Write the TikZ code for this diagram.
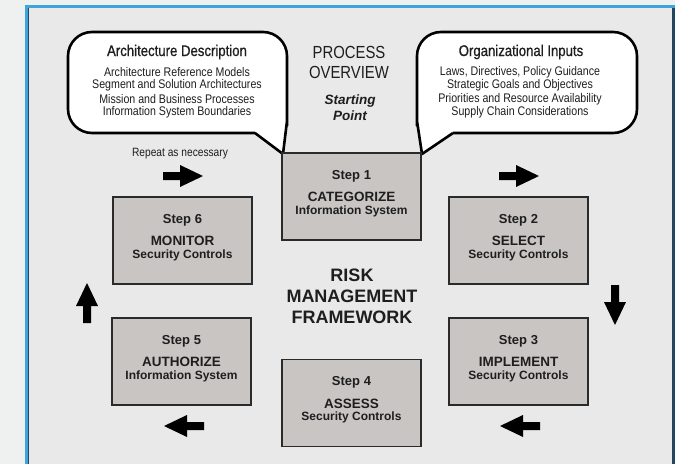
\documentclass[tikz,border=0pt]{standalone}
\usepackage{fontspec}
\setmainfont{Liberation Sans}
\newfontfamily\narrowfont[FakeStretch=0.85]{Liberation Sans}
\newfontfamily\narrowheavy[FakeStretch=0.85,FakeBold=0.8]{Liberation Sans}
\definecolor{pagebg}{HTML}{EFF0F0}
\definecolor{framebg}{HTML}{E9E9E9}
\definecolor{frameblue}{HTML}{3FA3DC}
\definecolor{frameedge}{HTML}{24465E}
\definecolor{stepfill}{HTML}{C8C5C3}
\definecolor{stepline}{HTML}{2A2A2A}
\definecolor{inktext}{HTML}{1E1E1E}
\tikzset{
  stepbox/.style={draw=stepline, line width=1.8pt, fill=stepfill,
    minimum width=139pt, minimum height=87pt, inner sep=0pt},
  steptext/.style={text=inktext, font=\bfseries, inner sep=0pt},
  callout/.style={draw=black, line width=2.6pt, fill=white, line join=round},
  blockarrow/.style={fill=black, draw=none},
  calltitle/.style={font=\narrowheavy\fontsize{15.5}{18}\selectfont, text=inktext, inner sep=0pt},
  callline/.style={font=\narrowfont\fontsize{12.5}{13.5}\selectfont, text=inktext, inner sep=0pt},
}
% three lines of a step box: number, action, object
\newcommand{\steplabels}[4]{%
  \node[steptext, font=\bfseries\fontsize{13}{15}\selectfont, yshift=20.5pt] (#1num) at (#1) {#2};
  \node[steptext, font=\bfseries\fontsize{13.5}{15}\selectfont, yshift=-0.5pt] (#1act) at (#1) {#3};
  \node[steptext, font=\bfseries\fontsize{12}{14}\selectfont, yshift=-14.5pt] (#1obj) at (#1) {#4};}
\begin{document}
\begin{tikzpicture}[x=1pt,y=-1pt]
\useasboundingbox (0,0) rectangle (675,464);
% page and framed panel
\fill[pagebg] (0,0) rectangle (675,464);
\fill[framebg] (26,6) rectangle (675,464);
\fill[frameblue] (25,5) rectangle (28,464);
\fill[frameblue] (25,5) rectangle (675,7.5);
\fill[frameedge] (28,7.5) rectangle (29,464);
\fill[frameedge] (672,7.5) rectangle (675,464);

% callouts with tails pointing at the first step
\draw[callout, rounded corners=24pt] (255,133) -- (68,133) -- (68,32) -- (287,32) -- (287,140) [sharp corners] -- (287,121) -- (283,154) -- (255,133);
\draw[callout, rounded corners=24pt] (453,133) -- (637,133) -- (637,32) -- (417,32) -- (417,140) [sharp corners] -- (417,121) -- (422,154) -- (453,133);

\node[calltitle] (archT) at (177,52) {Architecture Description};
\node[callline] (arch1) at (177,72) {Architecture Reference Models};
\node[callline] (arch2) at (177,85.5) {Segment and Solution Architectures};
\node[callline] (arch3) at (177,99) {Mission and Business Processes};
\node[callline] (arch4) at (177,112.5) {Information System Boundaries};

\node[calltitle] (orgT) at (521,52) {Organizational Inputs};
\node[callline] (org1) at (520,72) {Laws, Directives, Policy Guidance};
\node[callline] (org2) at (520,85.5) {Strategic Goals and Objectives};
\node[callline] (org3) at (520,99) {Priorities and Resource Availability};
\node[callline] (org4) at (520,112.5) {Supply Chain Considerations};

\node[font=\narrowfont\fontsize{17.5}{20}\selectfont, text=inktext, align=center, inner sep=0pt] (overview) at (349,62) {PROCESS\\OVERVIEW};
\node[font=\bfseries\itshape\fontsize{13.5}{16}\selectfont, text=inktext, align=center, inner sep=0pt] (start) at (350,108) {Starting\\Point};
\node[font=\narrowfont\fontsize{12}{14}\selectfont, text=inktext, inner sep=0pt] (repeat) at (180,154) {Repeat as necessary};

% steps
\node[stepbox] (s1) at (351.5,196.5) {};
\node[stepbox] (s2) at (518.5,240.5) {};
\node[stepbox] (s3) at (518.5,361.5) {};
\node[stepbox] (s4) at (351.5,403) {};
\node[stepbox] (s5) at (181.5,361.5) {};
\node[stepbox] (s6) at (182.5,240.5) {};
\steplabels{s1}{Step 1}{CATEGORIZE}{Information System}
\steplabels{s2}{Step 2}{SELECT}{Security Controls}
\steplabels{s3}{Step 3}{IMPLEMENT}{Security Controls}
\steplabels{s4}{Step 4}{ASSESS}{Security Controls}
\steplabels{s5}{Step 5}{AUTHORIZE}{Information System}
\steplabels{s6}{Step 6}{MONITOR}{Security Controls}

\node[font=\bfseries\fontsize{18}{21}\selectfont, text=inktext, align=center, inner sep=0pt] (rmf) at (352,296) {RISK\\MANAGEMENT\\FRAMEWORK};

% block arrows around the cycle
\fill[blockarrow] (163,172) -- (180,172) -- (180,165) -- (203,176) -- (180,187) -- (180,180) -- (163,180) -- cycle;
\fill[blockarrow] (499,172) -- (516,172) -- (516,165) -- (539,176) -- (516,187) -- (516,180) -- (499,180) -- cycle;
\fill[blockarrow] (611,285) -- (611,302) -- (604,302) -- (615,325) -- (626,302) -- (619,302) -- (619,285) -- cycle;
\fill[blockarrow] (540,422) -- (523,422) -- (523,415) -- (500,426) -- (523,437) -- (523,430) -- (540,430) -- cycle;
\fill[blockarrow] (204,422) -- (187,422) -- (187,415) -- (164,426) -- (187,437) -- (187,430) -- (204,430) -- cycle;
\fill[blockarrow] (83,323) -- (83,306) -- (76,306) -- (87,283) -- (98,306) -- (91,306) -- (91,323) -- cycle;
\end{tikzpicture}
\end{document}
